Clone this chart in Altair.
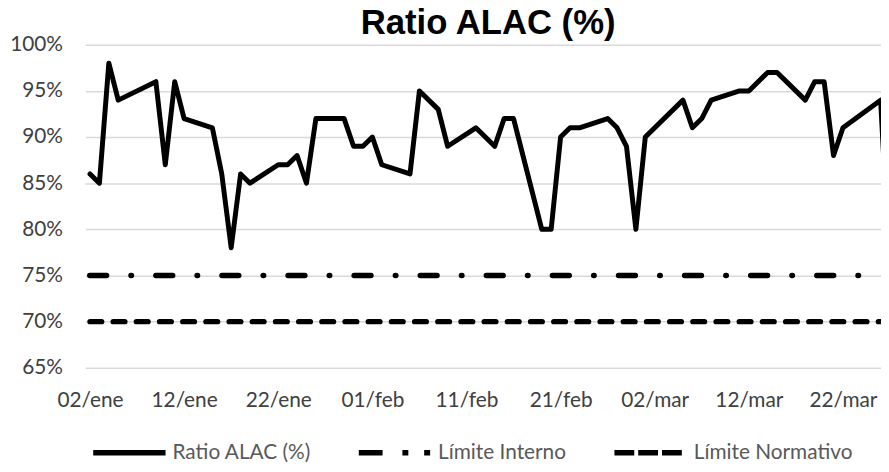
import altair as alt
import pandas as pd

# ---- data ----
dates = [
    "2024-01-02", "2024-01-03", "2024-01-04", "2024-01-05", "2024-01-09", "2024-01-10",
    "2024-01-11", "2024-01-12", "2024-01-15", "2024-01-16", "2024-01-17", "2024-01-18",
    "2024-01-19", "2024-01-22", "2024-01-23", "2024-01-24", "2024-01-25", "2024-01-26",
    "2024-01-29", "2024-01-30", "2024-01-31", "2024-02-01", "2024-02-02", "2024-02-05",
    "2024-02-06", "2024-02-08", "2024-02-09", "2024-02-12", "2024-02-14", "2024-02-15",
    "2024-02-16", "2024-02-19", "2024-02-20", "2024-02-21", "2024-02-22", "2024-02-23",
    "2024-02-26", "2024-02-27", "2024-02-28", "2024-02-29", "2024-03-01", "2024-03-05",
    "2024-03-06", "2024-03-07", "2024-03-08", "2024-03-11", "2024-03-12", "2024-03-14",
    "2024-03-15", "2024-03-18", "2024-03-19", "2024-03-20", "2024-03-21", "2024-03-22",
    "2024-03-26", "2024-03-27",
]
ratio = [
    86, 85, 98, 94, 96, 87,
    96, 92, 91, 86, 78, 86,
    85, 87, 87, 88, 85, 92,
    92, 89, 89, 90, 87, 86,
    95, 93, 89, 91, 89, 92,
    92, 80, 80, 90, 91, 91,
    92, 91, 89, 80, 90, 94,
    91, 92, 94, 95, 95, 97,
    97, 94, 96, 96, 88, 91,
    94, 75,
]
series_names = ["Ratio ALAC (%)", "Límite Interno", "Límite Normativo"]
limit_values = [75, 70]
tick_dates = ["2024-01-02", "2024-01-12", "2024-01-22", "2024-02-01", "2024-02-11",
              "2024-02-21", "2024-03-02", "2024-03-12", "2024-03-22"]
month_abbr = ["ene", "feb", "mar", "abr", "may", "jun", "jul", "ago", "sep", "oct", "nov", "dic"]
y_ticks = [65, 70, 75, 80, 85, 90, 95, 100]
x_start = "2024-01-01T12:00:00"
x_end = "2024-03-26T01:00:00"

# line styles
dash_interno = [17, 24.6, 0.5, 24.6]
dash_normativo = [11.7, 11.7]
legend_dashes = [[1, 0], [24, 20, 6, 16, 6, 60], [20, 4, 20, 4, 20, 60]]


def ms(s):
    return int(pd.Timestamp(s, tz="UTC").timestamp() * 1000)


line_df = pd.DataFrame({"fecha": [ms(d) for d in dates], "valor": ratio,
                        "serie": series_names[0]})
limit_rows = []
for name, val in zip(series_names[1:], limit_values):
    for t in (x_start, x_end):
        limit_rows.append({"fecha": ms(t), "valor": val, "serie": name})
limit_df = pd.DataFrame(limit_rows)

months_js = "[" + ",".join("'%s'" % m for m in month_abbr) + "]"
x_label_expr = ("(utcdate(datum.value) < 10 ? '0' : '') + utcdate(datum.value) + '/' + "
                + months_js + "[utcmonth(datum.value)]")

x_scale = alt.Scale(type="utc", domain=[ms(x_start), ms(x_end)])
x_axis = alt.Axis(
    values=[ms(t) for t in tick_dates],
    labelExpr=x_label_expr,
    grid=False, domain=False, ticks=False, tickSize=0,
    labelPadding=22, labelFont="Lato", labelFontSize=21,
    labelColor="#404040", title=None,
)
y_axis = alt.Axis(
    values=y_ticks, labelExpr="datum.value + '%'",
    grid=True, gridColor="#d9d9d9", gridWidth=1.5,
    domain=False, ticks=False, tickSize=0, labelPadding=23,
    labelFont="Lato", labelFontSize=21, labelColor="#404040", title=None,
)
y_scale = alt.Scale(domain=[65, 100], nice=False, zero=False)

legend = alt.Legend(
    title=None, orient="none", direction="horizontal", legendX=5, legendY=372,
    symbolType="stroke", symbolSize=5329, symbolStrokeWidth=5.5,
    symbolStrokeColor="black", labelFont="Lato", labelFontSize=21,
    labelColor="#595959", labelOffset=4, columnPadding=37, labelLimit=400,
)

xy = dict(
    x=alt.X("fecha:T", scale=x_scale, axis=x_axis),
    y=alt.Y("valor:Q", scale=y_scale, axis=y_axis),
)

line = alt.Chart(line_df).mark_line(
    color="black", strokeWidth=5, strokeJoin="round", strokeCap="round", clip=True
).encode(**xy)

limit_int = alt.Chart(limit_df).transform_filter(
    alt.datum.serie == series_names[1]
).mark_line(color="black", strokeWidth=5.5, strokeCap="round",
            strokeDash=dash_interno, strokeDashOffset=62.2, clip=True).encode(**xy)

limit_norm = alt.Chart(limit_df).transform_filter(
    alt.datum.serie == series_names[2]
).mark_line(color="black", strokeWidth=5.5, strokeCap="round",
            strokeDash=dash_normativo, strokeDashOffset=18.6, clip=True).encode(**xy)

# legend carrier: same series, filtered to no rows, only supplies the legend entries
legend_layer = alt.Chart(limit_df).transform_filter("false").mark_line(
    color="black", strokeWidth=5.5
).encode(
    **xy,
    strokeDash=alt.StrokeDash(
        "serie:N", scale=alt.Scale(domain=series_names, range=legend_dashes), legend=legend
    ),
)

chart = alt.layer(limit_int, limit_norm, line, legend_layer).properties(
    width=803, height=326,
    title=alt.TitleParams(
        text="Ratio ALAC (%)", font="Liberation Sans", fontSize=35, fontWeight="bold",
        color="black", anchor="middle", dx=5, dy=11, offset=4,
    ),
    background="white",
    autosize=alt.AutoSizeParams(type="none"),
    padding={"left": 78, "top": 35, "right": 0, "bottom": 95},
).configure_view(stroke=None)

chart.save("out.html", embed_options={"renderer": "svg", "actions": False})
